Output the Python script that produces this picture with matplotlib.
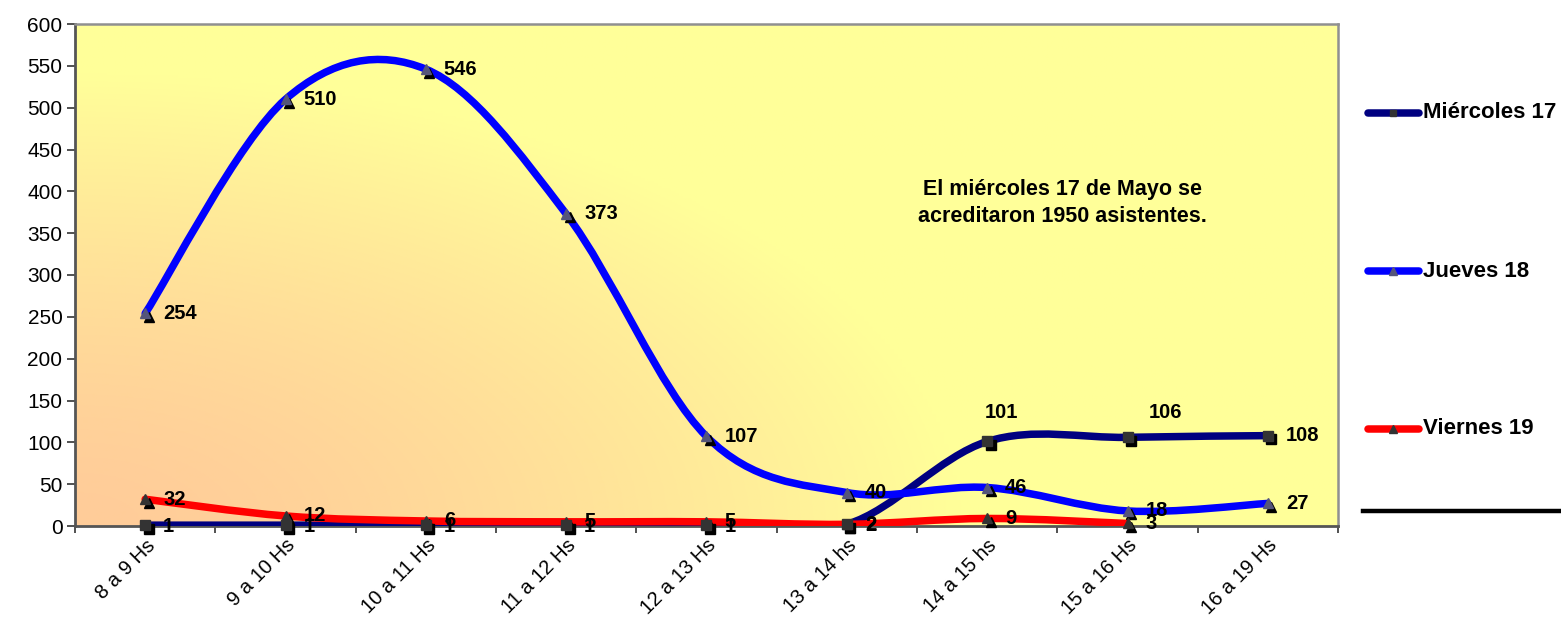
import numpy as np
import matplotlib
matplotlib.use('Agg')
import matplotlib.pyplot as plt
from matplotlib.path import Path
from matplotlib.patches import PathPatch, Rectangle
from matplotlib.lines import Line2D
import matplotlib.transforms as mtransforms

plt.rcParams['font.family'] = ['Liberation Sans', 'DejaVu Sans']

# data
categories = ['8 a 9 Hs', '9 a 10 Hs', '10 a 11 Hs', '11 a 12 Hs', '12 a 13 Hs',
              '13 a 14 hs', '14 a 15 hs', '15 a 16 Hs', '16 a 19 Hs']
miercoles = [1, 1, 1, 1, 1, 2, 101, 106, 108]
jueves = [254, 510, 546, 373, 107, 40, 46, 18, 27]
viernes = [32, 12, 6, 5, 5, 2, 9, 3]
series_names = ['Miércoles 17', 'Jueves 18', 'Viernes 19']
note = 'El miércoles 17 de Mayo se\nacreditaron 1950 asistentes.'

W, H = 1561, 627
fig = plt.figure(figsize=(W / 100, H / 100), dpi=100)
fig.patch.set_facecolor('white')
ax = fig.add_axes([75 / W, 1 - 526 / H, (1338 - 75) / W, (526 - 24) / H])

# gradient background: peach in the lower left corner, yellow elsewhere
gx, gy = np.meshgrid(np.linspace(0, 1, 300), np.linspace(0, 1, 200))
t = np.clip(np.hypot(gx / 0.7, gy / 0.9), 0, 1) ** 1.5
c0 = np.array([255, 204, 153]) / 255
c1 = np.array([255, 255, 153]) / 255
img = c0[None, None, :] * (1 - t[..., None]) + c1[None, None, :] * t[..., None]
ax.imshow(img, extent=[0, 1, 0, 1], transform=ax.transAxes, origin='lower',
          aspect='auto', zorder=0)

ax.set_xlim(-0.5, 8.5)
ax.set_ylim(0, 600)


def smooth_path(xs, ys):
    # Excel-like smoothed line: cubic bezier through every point
    pts = np.column_stack([xs, ys]).astype(float)
    n = len(pts)
    verts = [pts[0]]
    codes = [Path.MOVETO]
    for i in range(n - 1):
        p_prev = pts[i - 1] if i > 0 else pts[i]
        p_next2 = pts[i + 2] if i + 2 < n else pts[i + 1]
        c1_ = pts[i] + (pts[i + 1] - p_prev) / 6
        c2_ = pts[i + 1] - (p_next2 - pts[i]) / 6
        verts += [c1_, c2_, pts[i + 1]]
        codes += [Path.CURVE4] * 3
    return Path(verts, codes)


lw = 5.4
specs = [
    (miercoles, '#000080', 's', '#333333', 6.5),
    (jueves, '#0000FF', '^', '#55557a', 7.5),
    (viernes, '#FF0000', '^', '#333333', 7.5),
]
off = mtransforms.offset_copy(ax.transData, fig=fig, x=3.5, y=-3.5, units='dots')
for vals, col, mk, mcol, ms in specs:
    xs = np.arange(len(vals))
    ax.add_patch(PathPatch(smooth_path(xs, vals), facecolor='none', edgecolor=col,
                           lw=lw, capstyle='round', joinstyle='round', zorder=3))
    ax.plot(xs, vals, ls='none', marker=mk, ms=ms, color='black', transform=off,
            zorder=4, clip_on=False)
    ax.plot(xs, vals, ls='none', marker=mk, ms=ms, color=mcol, zorder=5, clip_on=False)

# data labels
fs = 14.5
lab_kw = dict(fontsize=fs, fontweight='bold', color='black', zorder=6,
              textcoords='offset points', annotation_clip=False)
for vals in (jueves, viernes):
    for i, v in enumerate(vals):
        ax.annotate(str(v), (i, v), xytext=(13, 0), ha='left', va='center', **lab_kw)
m_offsets = [(13, -1), (13, -1), (13, -1), (13, -1), (13, -1), (13, -1),
             (10, 21), (27, 18), (13, 0)]
for i, v in enumerate(miercoles):
    dx, dy = m_offsets[i]
    ha = 'center' if dy > 5 else 'left'
    ax.annotate(str(v), (i, v), xytext=(dx, dy), ha=ha, va='center', **lab_kw)

# axes styling
ax.set_yticks(np.arange(0, 601, 50))
ax.set_xticks(np.arange(-0.5, 9, 1))
ax.set_xticklabels([])
ax.set_xticks(np.arange(9), minor=True)
ax.set_xticklabels(categories, minor=True, rotation=45, ha='right',
                   rotation_mode='anchor', fontsize=fs)
ax.tick_params(axis='x', which='minor', length=0, pad=7)
ax.tick_params(axis='x', which='major', length=5, width=1.2, color='#333333',
               direction='out')
ax.tick_params(axis='y', length=6, width=1.2, color='#333333', direction='out',
               labelsize=15, pad=3)
for s in ('left', 'bottom'):
    ax.spines[s].set_color('#555555')
    ax.spines[s].set_linewidth(2)
for s in ('top', 'right'):
    ax.spines[s].set_color('#909090')
    ax.spines[s].set_linewidth(1.8)

# note box
ax.add_patch(Rectangle((0.6176, 0.562), 0.3207, 0.173, transform=ax.transAxes,
                       facecolor='#FFFF99', edgecolor='none', zorder=2))
ax.text(0.782, 0.643, note, transform=ax.transAxes, ha='center', va='center',
        fontsize=15.5, fontweight='bold', linespacing=1.4, zorder=6)

# legend drawn at fixed positions on the figure
leg_y = [113, 271, 429]
for (vals, col, mk, mcol, ms), name, y in zip(specs, series_names, leg_y):
    yf = 1 - y / H
    fig.add_artist(Line2D([1368 / W, 1419 / W], [yf, yf], color=col, lw=lw,
                          solid_capstyle='round', transform=fig.transFigure))
    fig.add_artist(Line2D([1393 / W], [yf], marker=mk, ms=ms - 1.5, color=mcol,
                          ls='none', transform=fig.transFigure))
    fig.text(1423 / W, yf, name, fontsize=16, fontweight='bold', va='center',
             ha='left')
fig.add_artist(Line2D([1363 / W, 1.0], [1 - 511 / H] * 2, color='black', lw=3.2,
                      transform=fig.transFigure))

fig.savefig('out.png', dpi=100)
